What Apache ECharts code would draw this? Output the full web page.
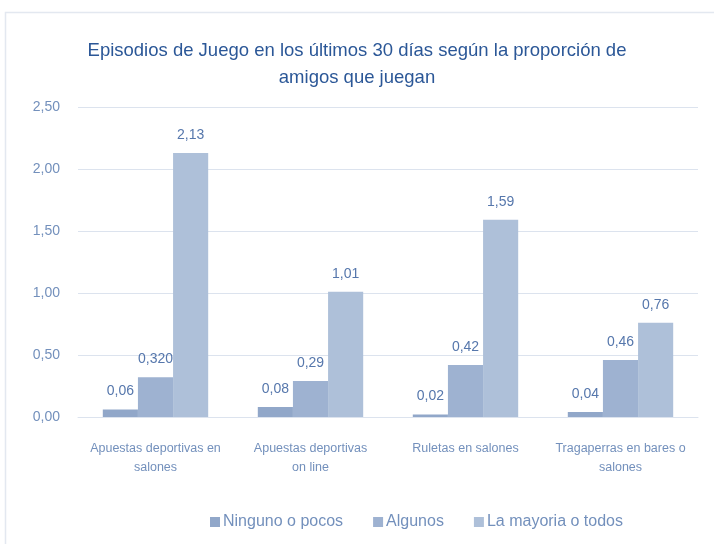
<!DOCTYPE html>
<html><head><meta charset="utf-8">
<script src="https://cdn.jsdelivr.net/npm/echarts@6/dist/echarts.min.js"></script>
<style>html,body{margin:0;padding:0;background:#fff}#c{width:714px;height:544px}</style>
</head><body><div id="c"></div>
<script>
const titleText = "Episodios de Juego en los últimos 30 días según la proporción de\namigos que juegan";
const categories = ["Apuestas deportivas en\nsalones", "Apuestas deportivas\non line", "Ruletas en salones", "Tragaperras en bares o\nsalones"];
const seriesNames = ["Ninguno o pocos", "Algunos", "La mayoria o todos"];
const ninguno = [0.06, 0.08, 0.02, 0.04];
const algunos = [0.32, 0.29, 0.42, 0.46];
const mayoria = [2.13, 1.01, 1.59, 0.76];
const ningunoLabels = ["0,06", "0,08", "0,02", "0,04"];
const algunosLabels = ["0,320", "0,29", "0,42", "0,46"];
const mayoriaLabels = ["2,13", "1,01", "1,59", "0,76"];
const yTicks = [0, 0.5, 1, 1.5, 2, 2.5];

const FONT = "'Liberation Sans', sans-serif";
const colors = ["#91A7C9", "#9EB2D1", "#AEC0D9"];
const labelColor = "#5677AC";
const axisColor = "#7390BC";

function mk(name, data, labels, color) {
  return {
    name: name, type: 'bar', data: data,
    barGap: '0%', barCategoryGap: '32%',
    itemStyle: { color: color },
    label: {
      show: true, position: 'top', distance: 11,
      color: labelColor, fontFamily: FONT, fontSize: 14,
      formatter: p => labels[p.dataIndex]
    }
  };
}

const chart = echarts.init(document.getElementById('c'), null, { renderer: 'canvas' });
chart.setOption({
  animation: false,
  backgroundColor: '#fff',
  color: colors,
  graphic: [{
    type: 'rect', shape: { x: 5.5, y: 12.5, width: 712, height: 540 },
    style: { fill: 'none', stroke: '#E3E8F0', lineWidth: 1.5 }, silent: true
  }],
  title: {
    text: titleText, left: 'center', top: 32,
    textStyle: { fontFamily: FONT, fontSize: 18.5, fontWeight: 'normal', color: '#2B5797', lineHeight: 27 }
  },
  grid: { left: 78, right: 16, top: 107, bottom: 127 },
  legend: {
    data: seriesNames, left: 205, top: 509,
    itemWidth: 10, itemHeight: 10, itemGap: 30,
    icon: 'rect',
    textStyle: { fontFamily: FONT, fontSize: 16, color: axisColor, padding: [0, 0, 0, -2] }
  },
  xAxis: {
    type: 'category', data: categories,
    axisLine: { lineStyle: { color: '#DCE3EE' } },
    axisTick: { show: false },
    axisLabel: { color: axisColor, fontFamily: FONT, fontSize: 12.5, margin: 22, lineHeight: 19, interval: 0 }
  },
  yAxis: {
    type: 'value', min: 0, max: 2.5, interval: 0.5,
    axisLine: { show: false }, axisTick: { show: false },
    splitLine: { lineStyle: { color: '#DCE3EE' } },
    axisLabel: {
      color: axisColor, fontFamily: FONT, fontSize: 14, margin: 18,
      formatter: v => yTicks.includes(v) ? v.toFixed(2).replace('.', ',') : ''
    }
  },
  series: [
    mk(seriesNames[0], ninguno, ningunoLabels, colors[0]),
    mk(seriesNames[1], algunos, algunosLabels, colors[1]),
    mk(seriesNames[2], mayoria, mayoriaLabels, colors[2])
  ]
});
</script></body></html>
